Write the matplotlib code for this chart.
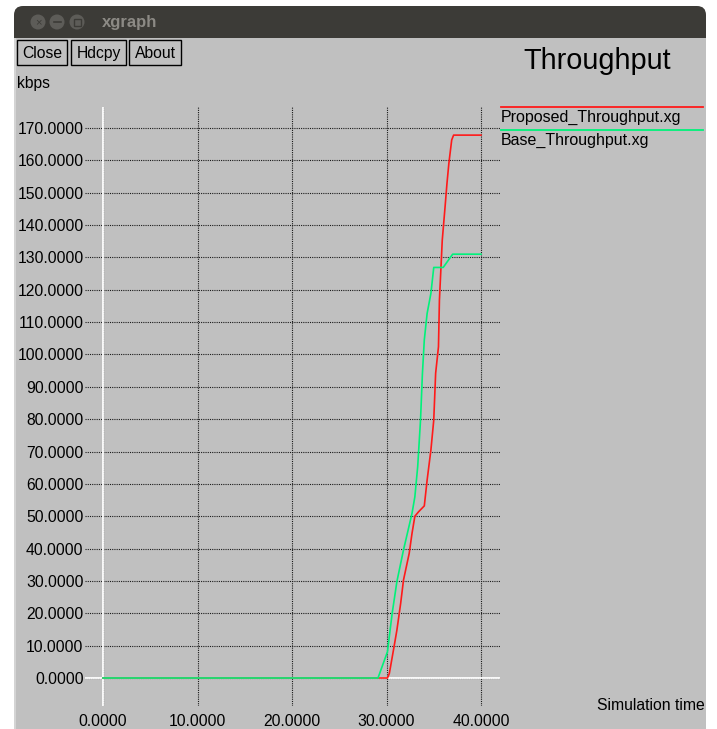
import matplotlib
matplotlib.use("Agg")
import matplotlib.pyplot as plt
from matplotlib.patches import Rectangle, FancyBboxPatch, Circle
from matplotlib.lines import Line2D

plt.rcParams['font.family'] = ['Liberation Sans', 'DejaVu Sans']

# Data
proposed_t = [0, 30.1, 30.3, 30.8, 31.1, 31.5, 31.8, 32.4, 32.7, 33.0, 33.4, 34.0,
              34.3, 34.7, 35.0, 35.2, 35.5, 35.6, 35.9, 36.2, 36.4, 36.6, 36.9, 37.1, 40.0]
proposed_v = [0, 0, 1.4, 9.7, 14.8, 23.1, 30.3, 38.5, 44.7, 50.0, 51.4, 53.2,
              61.2, 70.5, 79.7, 94.2, 102.4, 116.8, 135.3, 145.7, 152.9, 159.1, 166.3, 167.8, 167.8]
base_t = [0, 29.1, 30.1, 30.6, 31.1, 31.8, 32.7, 33.0, 33.3, 33.6, 33.8, 34.0,
          34.3, 34.7, 35.0, 36.0, 37.0, 40.0]
base_v = [0, 0, 8.1, 20.0, 29.8, 39.6, 50.9, 56.0, 65.3, 79.7, 94.0, 104.5,
          112.7, 118.9, 126.9, 126.9, 131.0, 131.0]
series_names = ["Proposed_Throughput.xg", "Base_Throughput.xg"]
series_colors = ["#ff1a1a", "#00f27a"]
x_ticks = [0, 10, 20, 30, 40]
y_ticks = [0, 10, 20, 30, 40, 50, 60, 70, 80, 90, 100, 110, 120, 130, 140, 150, 160, 170]
buttons = ["Close", "Hdcpy", "About"]

W, H = 717, 729
fig = plt.figure(figsize=(W / 100, H / 100), dpi=100, facecolor='white')

# Window chrome drawn in pixel coordinates
bg = fig.add_axes([0, 0, 1, 1])
bg.set_xlim(0, W)
bg.set_ylim(H, 0)
bg.axis('off')
grey = '#c0c0c0'
bg.add_patch(FancyBboxPatch((14, 6), 692, 45, boxstyle="round,pad=0,rounding_size=9",
                            facecolor='#3c3b37', edgecolor='none'))
bg.add_patch(Rectangle((14, 38), 692, H - 38, facecolor=grey, edgecolor='none'))
bg.add_patch(Rectangle((14, 38), 2, H - 38, facecolor='#d4d4d4', edgecolor='none'))
for cx in (38, 57, 77):
    bg.add_patch(Circle((cx, 22), 7.5, facecolor='#5d5c58', edgecolor='none'))
bg.text(38, 22.5, "×", color='#3c3b37', fontsize=8, ha='center', va='center')
bg.add_line(Line2D([53.5, 60.5], [22, 22], color='#3c3b37', lw=1.2))
bg.add_patch(Rectangle((73.5, 18.5), 7, 7, facecolor='none', edgecolor='#3c3b37', lw=1))
bg.text(102, 22, "xgraph", color='#8c8a85', fontsize=12, fontweight='bold',
        ha='left', va='center')

# Buttons
bx = [17, 71, 129]
bw = [50, 55, 52]
for label, x0, w in zip(buttons, bx, bw):
    bg.add_patch(Rectangle((x0, 40), w, 25, facecolor='none', edgecolor='black', lw=1))
    bg.text(x0 + w / 2, 53, label, fontsize=11.3, ha='center', va='center')

bg.text(17, 83, "kbps", fontsize=11.3, ha='left', va='center')
bg.text(597, 61, "Throughput", fontsize=20.8, ha='center', va='center')
bg.text(705, 706, "Simulation time", fontsize=11.3, ha='right', va='center')

# Legend
for i, (name, col) in enumerate(zip(series_names, series_colors)):
    yl = 107 + 23 * i
    bg.add_line(Line2D([501, 703], [yl, yl], color=col, lw=1.3))
    bg.text(501, yl + 10, name, fontsize=11.5, ha='left', va='center')

# Plot area
px_x0, px_x1, px_y0, px_y1 = 85, 500, 107, 706
ax = fig.add_axes([px_x0 / W, 1 - px_y1 / H, (px_x1 - px_x0) / W, (px_y1 - px_y0) / H])
ax.set_facecolor('none')
sx = 378 / 40.0
sy = 550 / 170.0
ax.set_xlim((px_x0 - 103) / sx, (px_x1 - 103) / sx)
ax.set_ylim((678 - px_y1) / sy, (678 - px_y0) / sy)
for s in ax.spines.values():
    s.set_visible(False)

ax.set_xticks(x_ticks, labels=[f"{t:.4f}" for t in x_ticks])
ax.set_yticks(y_ticks, labels=[f"{t:.4f}" for t in y_ticks])
ax.tick_params(axis='both', length=0, labelsize=11.3)
ax.tick_params(axis='y', pad=1)
ax.tick_params(axis='x', pad=6)
ax.grid(True, color='#1a1a1a', linestyle=(0, (1, 1)), linewidth=0.8)
ax.axhline(0, color='white', lw=1.3, zorder=2)
ax.axvline(0, color='white', lw=1.3, zorder=2)

ax.plot(proposed_t, proposed_v, color=series_colors[0], lw=1.2, zorder=3)
ax.plot(base_t, base_v, color=series_colors[1], lw=1.2, zorder=4)

fig.savefig("out.png", dpi=100, facecolor='white')
